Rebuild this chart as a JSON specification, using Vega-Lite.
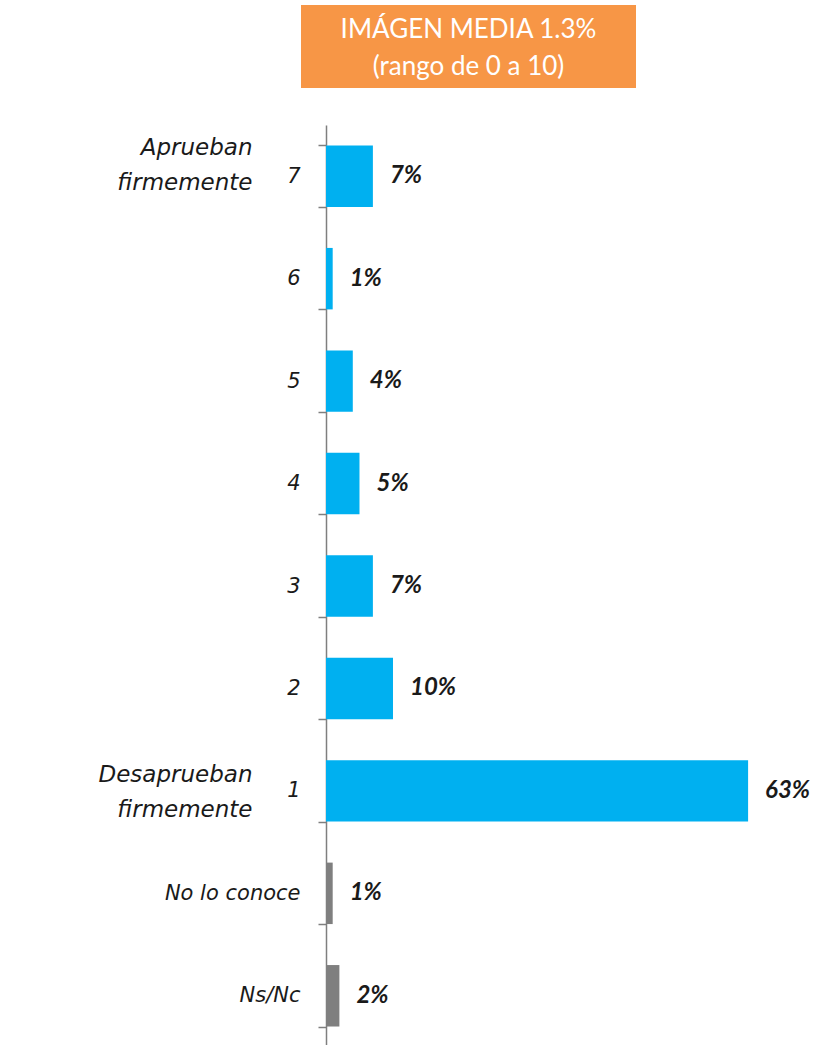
{
  "$schema": "https://vega.github.io/schema/vega-lite/v6.json",
  "background": "white",
  "padding": {"left": 98, "top": 5, "right": 0, "bottom": 0},
  "config": {"view": {"stroke": null}, "font": "Lato"},
  "spacing": 26,
  "vconcat": [
    {
      "width": 335,
      "height": 83,
      "view": {"fill": "#F79646", "stroke": null},
      "data": {"values": [{"titulo": ["IMÁGEN MEDIA 1.3%", "(rango de 0 a 10)"]}]},
      "mark": {"type": "text", "color": "white", "font": "Lato", "fontSize": 26, "lineHeight": 37, "align": "center", "baseline": "alphabetic", "dy": -8.5},
      "encoding": {"text": {"field": "titulo"}}
    },
    {
      "width": 494,
      "height": 922,
      "data": {
        "values": [
          {"cat": "7", "value": 7, "label": "7%", "tipo": "escala"},
          {"cat": "6", "value": 1, "label": "1%", "tipo": "escala"},
          {"cat": "5", "value": 4, "label": "4%", "tipo": "escala"},
          {"cat": "4", "value": 5, "label": "5%", "tipo": "escala"},
          {"cat": "3", "value": 7, "label": "7%", "tipo": "escala"},
          {"cat": "2", "value": 10, "label": "10%", "tipo": "escala"},
          {"cat": "1", "value": 63, "label": "63%", "tipo": "escala"},
          {"cat": "No lo conoce", "value": 1, "label": "1%", "tipo": "otro"},
          {"cat": "Ns/Nc", "value": 2, "label": "2%", "tipo": "otro"}
        ]
      },
      "layer": [
        {
          "mark": {"type": "bar"},
          "encoding": {
            "y": {
              "field": "cat", "type": "nominal", "sort": null,
              "scale": {"paddingInner": 0.4, "paddingOuter": 0.2},
              "axis": {
                "orient": "left", "offset": -25, "title": null,
                "domainColor": "#7f7f7f", "domainWidth": 1.5,
                "tickColor": "#7f7f7f", "tickSize": 8, "tickWidth": 1.5, "tickBand": "extent",
                "labelFont": "DejaVu Sans", "labelFontStyle": "italic", "labelFontSize": 21,
                "labelColor": "#1a1a1a", "labelPadding": 18, "labelLimit": 300
              }
            },
            "x": {
              "field": "value", "type": "quantitative",
              "scale": {"domain": [-3.73, 70], "nice": false, "zero": false},
              "axis": null
            },
            "x2": {"datum": 0},
            "color": {
              "field": "tipo", "type": "nominal",
              "scale": {"domain": ["escala", "otro"], "range": ["#00B0F0", "#7F7F7F"]},
              "legend": null
            }
          }
        },
        {
          "mark": {"type": "text", "align": "left", "baseline": "middle", "dx": 17, "font": "Lato", "fontSize": 24, "fontWeight": "bold", "fontStyle": "italic", "color": "#1a1a1a"},
          "encoding": {
            "y": {
              "field": "cat", "type": "nominal", "sort": null,
              "axis": {
                "orient": "left", "offset": 49, "title": null,
                "domain": false, "ticks": false, "labelPadding": 0,
                "labelExpr": "datum.value == '7' ? ['Aprueban', 'firmemente'] : datum.value == '1' ? ['Desaprueban', 'firmemente'] : ''",
                "labelFont": "DejaVu Sans", "labelFontSize": 23, "labelFontStyle": "italic",
                "labelBaseline": "alphabetic",
                "labelOffset": {"condition": {"test": "datum.value == '7'", "value": -21}, "value": -9},
                "labelColor": "#1a1a1a", "labelLineHeight": 35, "labelLimit": 300
              }
            },
            "x": {"field": "value", "type": "quantitative"},
            "text": {"field": "label"}
          }
        }
      ],
      "resolve": {"axis": {"y": "independent"}}
    }
  ]
}
